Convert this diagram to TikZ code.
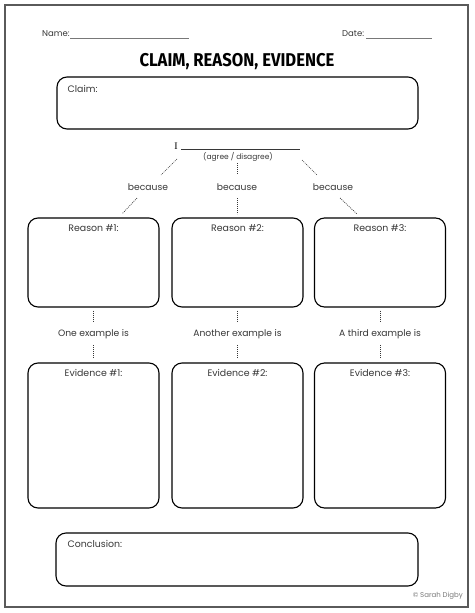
\documentclass[tikz,border=0pt]{standalone}
\usepackage{fontspec}
\usepackage{tikz}
\usetikzlibrary{positioning}
\setmainfont{Poppins}
\newfontfamily\titlefont{Fira Sans}
\newfontfamily\seriffont{Liberation Serif}
\definecolor{sheetgray}{RGB}{90,90,90}
\definecolor{inkgray}{RGB}{55,55,55}
\definecolor{rulegray}{RGB}{120,120,120}

\tikzset{
  box/.style={draw=black,line width=1.1pt,rounded corners=10pt,inner sep=0pt},
  boxlabel/.style={font=\fontsize{9.4}{11}\selectfont,text=inkgray,inner sep=0pt},
  linktext/.style={font=\fontsize{9.2}{11}\selectfont,text=inkgray,inner sep=1pt},
  link/.style={draw=inkgray,line width=0.7pt,dash pattern=on 0.9pt off 1.1pt}
}

\begin{document}
\begin{tikzpicture}[x=1pt,y=-1pt]
\useasboundingbox (0,0) rectangle (474,613);
\draw[sheetgray,line width=1.2pt] (5,5) rectangle (468,607);

% heading
\node[boxlabel,anchor=west,font=\fontsize{8.5}{10}\selectfont] (name) at (42,34) {Name:};
\draw[rulegray,line width=0.5pt] (70,38) -- (189,38);
\node[boxlabel,anchor=west,font=\fontsize{8.5}{10}\selectfont] (date) at (342,34) {Date:};
\draw[rulegray,line width=0.5pt] (366,38) -- (432,38);
\node[text=black] (title) at (237,62)
  {\scalebox{0.9}[1]{\titlefont\bfseries\fontsize{18.5}{20}\selectfont CLAIM, REASON, EVIDENCE}};

% claim
\node[box,minimum width=361pt,minimum height=52pt] (claim) at (237.5,103) {};
\node[boxlabel,anchor=west] at ([xshift=11pt,yshift=-13pt]claim.north west) {Claim:};
\node[inner sep=0pt,font=\seriffont\fontsize{10}{12}\selectfont] (I) at (176,146) {I};
\draw[inkgray,line width=0.6pt] (181,149) -- (300,149);
\node[inner sep=0pt,font=\fontsize{7.5}{9}\selectfont,text=inkgray] (agree) at (238,157) {(agree / disagree)};

% because
\node[linktext] (b1) at (148,187) {because};
\node[linktext] (b2) at (237,187) {because};
\node[linktext] (b3) at (333,187) {because};
\draw[link] (I) ++(1,13) -- ++(-16,16);
\draw[link] (agree) ++(-1,6) -- ++(0,11);
\draw[link] (agree) ++(64,3) -- ++(15,15);
\draw[link] (b1) ++(-11,11) -- ++(-15,16);
\draw[link] (b2) ++(0,11) -- ++(0,16);
\draw[link] (b3) ++(7,11) -- ++(17,16);

% reasons and evidence
\foreach \n/\x/\ex in {1/93.5/One example is,2/237.5/Another example is,3/380/A third example is}{
  \node[box,minimum width=131pt,minimum height=89pt] (r\n) at (\x,262.5) {};
  \node[boxlabel,below=7pt of r\n.north] {Reason \#\n:};
  \node[linktext] (ex\n) at (\x,334) {\ex};
  \node[box,minimum width=131pt,minimum height=145pt] (e\n) at (\x,435.5) {};
  \node[boxlabel,below=7pt of e\n.north] {Evidence \#\n:};
  \draw[link] ([yshift=-3pt]r\n.south) -- ([yshift=6pt]ex\n.north);
  \draw[link] ([yshift=-5pt]ex\n.south) -- ([yshift=5pt]e\n.north);
}

% conclusion
\node[box,minimum width=362pt,minimum height=53pt] (concl) at (237,559.5) {};
\node[boxlabel,anchor=west] at ([xshift=12pt,yshift=-12pt]concl.north west) {Conclusion:};
\node[anchor=east,inner sep=0pt,font=\fontsize{7}{8}\selectfont,text=rulegray] (copy) at (463,596) {\textcopyright{} Sarah Digby};
\end{tikzpicture}
\end{document}
